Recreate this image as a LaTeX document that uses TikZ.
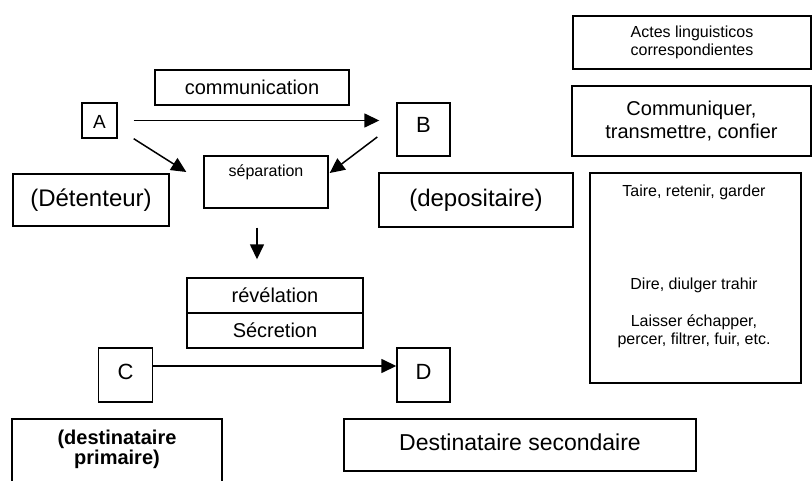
\documentclass[tikz,border=0pt]{standalone}
\usepackage{fontspec}
\setmainfont{Liberation Sans}
\usetikzlibrary{arrows.meta}

\tikzset{
  bx/.style={draw, line width=1.4pt, inner sep=0pt, align=center},
  arr/.style={line width=1.5pt, -{Triangle[length=15pt,width=14pt]}},
  fbig/.style={font=\fontsize{24}{28}\selectfont},
  fmid/.style={font=\fontsize{20}{23}\selectfont},
  fsml/.style={font=\fontsize{16}{18}\selectfont},
  flet/.style={font=\fontsize{22}{22}\selectfont},
}

\begin{document}
\begin{tikzpicture}[x=1pt,y=-1pt]
  \useasboundingbox (0,0) rectangle (812,481);
  \clip (0,0) rectangle (812,481);
  \begin{scope}
    \node[bx,fmid,minimum width=194pt,minimum height=35pt] (comm) at (252,87.5) {communication};
    \node[bx,font=\fontsize{19}{19}\selectfont,minimum width=35pt,text height=26pt,text depth=9pt] (A) at (99.5,120.5) {A};
    \node[bx,flet,minimum width=53pt,text height=30pt,text depth=23pt] (B) at (423.5,129.5) {B};
    \node[bx,fsml,minimum width=124pt,text height=21pt,text depth=31pt] (sep) at (266,182) {séparation};
    \node[bx,fbig,minimum width=156pt,minimum height=52pt] (det) at (91,200) {(Détenteur)};
    \node[bx,fbig,minimum width=194pt,minimum height=54pt] (dep) at (476,200) {(depositaire)};

    \node[bx,fsml,minimum width=238pt,minimum height=53pt] (actes) at (692,42.5) {Actes linguisticos\\correspondientes};
    \node[bx,fmid,minimum width=239pt,minimum height=70pt] (comq) at (691.5,121) {Communiquer,\\transmettre, confier};
    \node[bx,minimum width=211pt,minimum height=210pt] (taire) at (695.5,278) {};
    \node[fsml,align=center,inner sep=0pt,anchor=north] (tairetxt) at ([xshift=-1.5pt,yshift=-12.5pt]taire.north)
      {Taire, retenir, garder\\[75pt]Dire, diulger trahir\\[19pt]Laisser échapper,\\percer, filtrer, fuir, etc.};

    \node[bx,fmid,minimum width=176pt,minimum height=35pt] (rev) at (275,295.5) {révélation};
    \node[bx,fmid,minimum width=176pt,minimum height=35pt] (secr) at (275,330.5) {Sécretion};
    \node[bx,flet,minimum width=54pt,text height=31pt,text depth=23pt] (C) at (125.5,375) {C};
    \node[bx,flet,minimum width=53pt,text height=31pt,text depth=23pt] (D) at (423.5,375) {D};

    \node[bx,minimum width=210pt,minimum height=101pt] (prim) at (117,469.5) {};
    \node[align=center,inner sep=0pt,anchor=north,font=\fontsize{20}{20}\selectfont\bfseries] (primtxt) at ([yshift=-11.5pt]prim.north)
      {(destinataire\\primaire)};
    \node[bx,font=\fontsize{23}{23}\selectfont,minimum width=352pt,text height=31pt,text depth=21pt] (sec2) at (520,445) {Destinataire secondaire};

    \draw[arr] ([xshift=16pt]A.east) -- ([xshift=-17pt]A.east -| B.west);
    \draw[arr] ([xshift=16pt]A.south east) -- ([xshift=-17pt,yshift=10pt]sep.west);
    \draw[arr] ([xshift=-19pt,yshift=-7.5pt]B.west) -- ([xshift=1pt,yshift=9pt]sep.east);
    \draw[arr] ([xshift=-9pt,yshift=-19pt]sep.south) -- ([xshift=-18pt,yshift=18pt]rev.north);
    \draw[arr] ([yshift=9pt]C.east) -- ([yshift=9pt]C.east -| D.west);
  \end{scope}
\end{tikzpicture}
\end{document}
